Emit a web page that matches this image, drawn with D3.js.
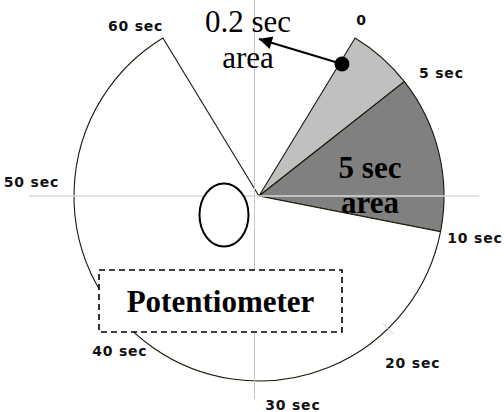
<!DOCTYPE html>
<html><head><meta charset="utf-8">
<script src="https://cdn.jsdelivr.net/npm/d3@7"></script>
<style>html,body{margin:0;padding:0;background:#fff;}svg{display:block;}</style>
</head><body>
<svg id="c" width="504" height="412"></svg>
<script>
// Dial sectors (degrees of rotation), clockwise starting at the "0" mark
const sectorNames  = ["0.2 sec area", "5 sec area", "10-60 sec", "dead zone"];
const sectorDegrees = [20.5, 49.3, 227.6, 62.6];
const sectorFills   = ["#c0c0c0", "#808080", "#ffffff", "none"];
const dialStartDeg = 31.3;

// Dial mark labels and their angle (degrees clockwise from top)
const dialLabels = ["0", "5 sec", "10 sec", "20 sec", "30 sec", "40 sec", "50 sec", "60 sec"];
const dialLabelAngles = [30.2, 56, 101, 137.4, 170.8, 222, 273.5, 324];
const dialLabelRadii  = [204, 220, 220, 227, 212, 208, 228, 210];

const svg = d3.select("#c");
const cx = 259, cy = 196, R = 185;
const rad = d => d * Math.PI / 180;

const pie = d3.pie().sort(null).value(d => d)
  .startAngle(rad(dialStartDeg)).endAngle(rad(dialStartDeg + 360));
const arc = d3.arc().innerRadius(0).outerRadius(R);

const g = svg.append("g").attr("transform", `translate(${cx},${cy})`);
g.selectAll("path").data(pie(sectorDegrees)).enter()
  .filter((d, i) => sectorFills[i] !== "none")
  .append("path")
  .attr("d", arc)
  .attr("fill", (d) => sectorFills[d.index])
  .attr("stroke", "#1a1a08")
  .attr("stroke-width", 1.1)
  .attr("stroke-linejoin", "miter");

// faint axis lines
svg.append("line").attr("x1", 254.5).attr("x2", 254.5).attr("y1", 0).attr("y2", 399)
  .attr("stroke", "#c4c4c4").attr("stroke-width", 1);
svg.append("line").attr("x1", 29).attr("x2", 479).attr("y1", 196).attr("y2", 196)
  .attr("stroke", "#d8d8d8").attr("stroke-width", 1.6);

// faint tick at 20 sec
const tA = rad(135.8);
svg.append("line")
  .attr("x1", cx + (R - 8) * Math.sin(tA)).attr("y1", cy - (R - 8) * Math.cos(tA))
  .attr("x2", cx + (R + 8) * Math.sin(tA)).attr("y2", cy - (R + 8) * Math.cos(tA))
  .attr("stroke", "#cccccc").attr("stroke-width", 1);

// dial labels
svg.selectAll("text.dial").data(dialLabels).enter().append("text")
  .attr("class", "dial")
  .attr("x", (d, i) => cx + dialLabelRadii[i] * Math.sin(rad(dialLabelAngles[i])))
  .attr("y", (d, i) => cy - dialLabelRadii[i] * Math.cos(rad(dialLabelAngles[i])))
  .attr("dy", "0.36em")
  .attr("text-anchor", "middle")
  .attr("font-family", "'DejaVu Sans', sans-serif")
  .attr("font-weight", "bold")
  .attr("font-size", 14)
  .attr("letter-spacing", 0.8)
  .attr("fill", "#111")
  .text(d => d);

// potentiometer shaft ellipse
svg.append("ellipse").attr("cx", 224).attr("cy", 215).attr("rx", 24.5).attr("ry", 31.5)
  .attr("fill", "#fff").attr("stroke", "#000").attr("stroke-width", 2);

// Potentiometer box
svg.append("rect").attr("x", 99).attr("y", 270).attr("width", 243).attr("height", 62)
  .attr("fill", "#fff").attr("stroke", "#000").attr("stroke-width", 1.6)
  .attr("stroke-dasharray", "6,4");
svg.append("text").attr("x", 220.5).attr("y", 312).attr("text-anchor", "middle")
  .attr("font-family", "'Liberation Serif', 'Times New Roman', serif")
  .attr("font-weight", "bold").attr("font-size", 31).attr("fill", "#000")
  .text("Potentiometer");

// 5 sec area label
const t5 = svg.append("text").attr("text-anchor", "middle")
  .attr("font-family", "'Liberation Serif', 'Times New Roman', serif")
  .attr("font-weight", "bold").attr("font-size", 31).attr("fill", "#000");
t5.append("tspan").attr("x", 370).attr("y", 178).text("5 sec");
t5.append("tspan").attr("x", 370).attr("y", 213).text("area");

// 0.2 sec area label with arrow
const t2 = svg.append("text").attr("text-anchor", "middle")
  .attr("font-family", "'Liberation Serif', 'Times New Roman', serif")
  .attr("font-size", 31).attr("fill", "#000");
t2.append("tspan").attr("x", 248).attr("y", 32).text("0.2 sec");
t2.append("tspan").attr("x", 248).attr("y", 68).text("area");

svg.append("defs").append("marker").attr("id", "ah")
  .attr("viewBox", "0 0 10 10").attr("refX", 10).attr("refY", 5)
  .attr("markerWidth", 7.5).attr("markerHeight", 6.5).attr("orient", "auto")
  .attr("markerUnits", "strokeWidth")
  .append("path").attr("d", "M0,0 L10,5 L0,10 z").attr("fill", "#000");
svg.append("line").attr("x1", 342).attr("y1", 64).attr("x2", 259).attr("y2", 39)
  .attr("stroke", "#000").attr("stroke-width", 2).attr("marker-end", "url(#ah)");
svg.append("circle").attr("cx", 342).attr("cy", 64).attr("r", 7.5).attr("fill", "#000");
</script>
</body></html>
